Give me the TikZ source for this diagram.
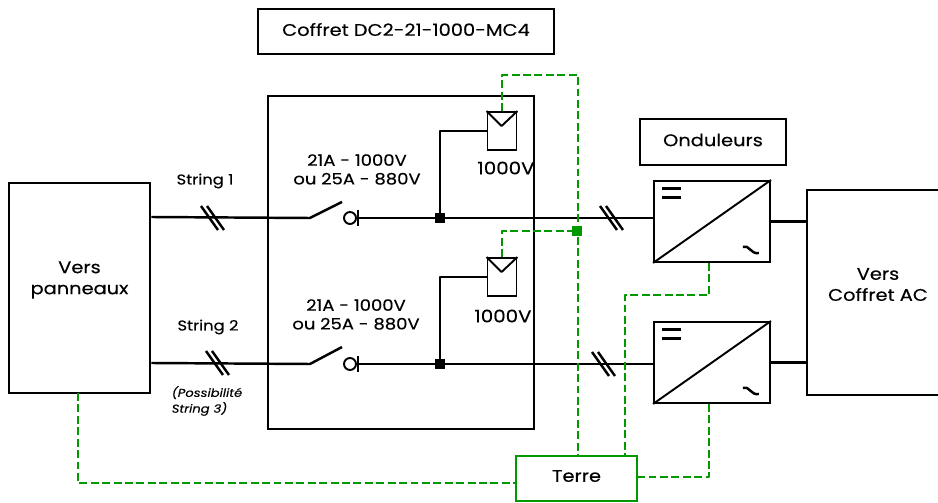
\documentclass[tikz,border=0pt]{standalone}
\usepackage{fontspec}
\setmainfont[FakeStretch=1.15,FakeBold=.3]{Poppins}
\definecolor{earthgreen}{RGB}{0,153,0}
\tikzset{%
  box/.style={draw, line width=1.5pt, inner sep=0pt},
  boxtext/.style={inner sep=0pt, align=center, font=\fontsize{9.6}{12}\selectfont},
  panel/.style={draw, line width=1.1pt, inner sep=0pt, minimum width=.58cm, minimum height=.76cm},
  inverter/.style={draw, line width=1.1pt, inner sep=0pt, minimum width=2.32cm, minimum height=1.62cm},
  wire/.style={line width=1.4pt, line join=round},
  earth/.style={earthgreen, line width=1.5pt, dash pattern=on 4.5pt off 2pt, line join=round},
  junction/.style={fill=black, inner sep=0pt, minimum size=.2cm},
  contact/.style={draw, circle, line width=1.1pt, inner sep=0pt, minimum size=.24cm},
  rating/.style={inner sep=0pt, align=center, font=\fontsize{8.9}{10.6}\selectfont},
  stringtext/.style={inner sep=0pt, font=\fontsize{8.1}{10}\selectfont},
  volttext/.style={inner sep=0pt, font=\fontsize{9.8}{10}\selectfont},
  note/.style={inner sep=0pt, align=left, font=\fontsize{6.5}{9}\selectfont\itshape}
}
\begin{document}
\begin{tikzpicture}[x=.02cm, y=-.02cm]
    \useasboundingbox (0,0) rectangle (938,503);

    \node [box, minimum width=5.92cm, minimum height=.9cm] (Ytitle) at (406,31.5) {};
    \node [box, minimum width=2.92cm, minimum height=.92cm] (Yond) at (713,142) {};
    \node [box, minimum width=2.82cm, minimum height=4.2cm] (Ypan) at (79.5,288) {};
    \node [draw, line width=1.1pt, minimum width=5.32cm, minimum height=6.66cm] (Ycof) at (401,262.5) {};
    \node [box, minimum width=2.84cm, minimum height=4.1cm] (Yac) at (878,292.5) {};
    \node [box, draw=earthgreen, minimum width=2.42cm, minimum height=.9cm] (Yter) at (576.5,478.5) {};

    \node [boxtext] (Ytitlet) at (406,29.5) {Coffret DC2-21-1000-MC4};
    \node [boxtext] (Yondt) at (713,140) {Onduleurs};
    \node [boxtext] (Ypant) at (79.5,280) {Vers\\panneaux};
    \node [boxtext] (Yact) at (878,284.5) {Vers\\Coffret AC};
    \node [boxtext] (Ytert) at (576.5,476) {Terre};

    \node [inverter] (Yinv1) at (712,221.5) {};
    \node [inverter] (Yinv2) at (712,362.5) {};
    \node [panel] (Ypv1) at (502,131) {};
    \node [panel] (Ypv2) at (502,277) {};

    \node [junction] (Yj1) at (440,218) {};
    \node [junction] (Yj2) at (440,364) {};
    \node [junction, fill=earthgreen] (Yjt) at (577,231) {};

    \coordinate (Ys1a) at (310,218);
    \coordinate (Ys1b) at (342,202);
    \coordinate (Ys2a) at (310,364);
    \coordinate (Ys2b) at (342,347);
    \node [contact] (Yc1) at (350,218) {};
    \node [contact] (Yc2) at (350,364) {};
    \coordinate (Yb1) at (358,218);
    \coordinate (Yb2) at (358,364);

    % strings
    \draw [wire] (Ypan.east |- 0,217) -- (Ys1a) -- (Ys1b);
    \draw [wire] (Ypan.east |- 0,363) -- (Ys2a) -- (Ys2b);
    \draw [wire] (Yb1) ++(0,-8) -- ++(0,16);
    \draw [wire] (Yb2) ++(0,-8) -- ++(0,16);
    \draw [wire] (Yb1) -- (Yinv1.west |- Yb1);
    \draw [wire] (Yb2) -- (Yinv2.west |- Yb2);
    \draw [wire] (Ypv1.west) -- (Yj1 |- Ypv1.west) -- (Yj1);
    \draw [wire] (Ypv2.west) -- (Yj2 |- Ypv2.west) -- (Yj2);
    \draw [wire] (Yinv1.east) -- (Yac.west |- Yinv1.east);
    \draw [wire] (Yinv2.east) -- (Yac.west |- Yinv2.east);

    % double bars
    \foreach \xb/\yb in {212/218, 217/363, 611/218, 603/364} {
      \draw [wire] (\xb-11,\yb-12) -- (\xb+6,\yb+12);
      \draw [wire] (\xb-5,\yb-12) -- (\xb+12,\yb+12);
    }

    % panel and inverter symbols
    \foreach \n in {1,2} {
      \draw [wire, line width=1.1pt] (Ypv\n.north west) -- ++(15,15) -- (Ypv\n.north east);
      \draw [wire, line width=1.1pt] (Yinv\n.south west) -- (Yinv\n.north east);
      \draw [wire] (Yinv\n.north west) ++(9,8.5) -- ++(19,0);
      \draw [wire] (Yinv\n.north west) ++(9,17.5) -- ++(19,0);
      \draw [wire] (Yinv\n.south east) ++(-28,-16) .. controls +(6,-3) and +(-8,2) .. ++(16,6);
    }

    % earth
    \draw [earth] (Ypv1.north) -- (Ypv1.north |- 0,75) -- (578,75) -- (578,456);
    \draw [earth] (Ypv2.north) -- (Ypv2.north |- Yjt) -- (Yjt);
    \draw [earth] (Yinv1.south -| 709,0) -- (709,295) -- (625,295) -- (625,456);
    \draw [earth] (Yinv2.south -| 709,0) -- (709,477) -- (Yter.east |- 0,477);
    \draw [earth] (78,393) -- (78,483) -- (Yter.west |- 0,483);

    \node [rating] (Yr1) at (357,169.5) {21A - 1000V\\ou 25A - 880V};
    \node [rating] (Yr2) at (356,314.5) {21A - 1000V\\ou 25A - 880V};
    \node [volttext] (Yv1) at (506,168) {1000V};
    \node [volttext] (Yv2) at (503,316) {1000V};
    \node [stringtext] (Ystr1) at (205,181) {String 1};
    \node [stringtext] (Ystr2) at (208,327) {String 2};
    \node [note] (Ypos) at (207,401) {(Possibilité\\String 3)};
\end{tikzpicture}
\end{document}
